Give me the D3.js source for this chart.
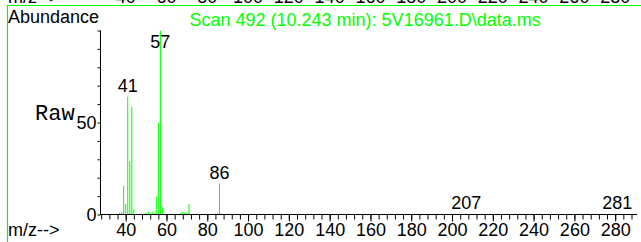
<!DOCTYPE html>
<html>
<head>
<meta charset="utf-8">
<title>Scan 492</title>
<script src="https://cdn.jsdelivr.net/npm/d3@7/dist/d3.min.js"></script>
<style>
  body { margin: 0; background: #fff; }
  text { font-family: "Liberation Sans", Arial, sans-serif; font-size: 18px; }
</style>
</head>
<body>
<svg id="chart" width="641" height="242"></svg>
<script>
// spectrum: m/z and abundance (% of base peak)
const mz        = [37, 38, 39, 40, 41, 42, 43, 44, 50, 51, 52, 53, 54, 55, 56, 57, 58, 67, 68, 69, 70, 71, 84, 85, 86, 87, 207, 281];
const abundance = [1.0, 1.2, 15.5, 5.7, 64, 29, 58.5, 2.8, 1.0, 1.7, 1.0, 1.5, 0.7, 9.7, 50, 100, 3.9, 1.0, 1.2, 1.2, 1.2, 5.7, 0.6, 0.8, 17, 0.5, 0.5, 0.4];
const peakLabels = [41, 57, 86, 207, 281];
const xTickLabels = [40, 60, 80, 100, 120, 140, 160, 180, 200, 220, 240, 260, 280];
const yTickLabels = [0, 50];
const title = "Scan 492 (10.243 min): 5V16961.D\\data.ms";

const green = "#00ff00";
const svg = d3.select("#chart");

const x = d3.scaleLinear().domain([27.4, 290.7]).range([100, 637]);
const y = d3.scaleLinear().domain([0, 100]).range([214.5, 30.5]);

// frame lines (green) of the scan panel
svg.append("line").attr("x1", 7.5).attr("x2", 7.5).attr("y1", 5.5).attr("y2", 242)
  .attr("stroke", green).attr("stroke-width", 1.2);
svg.append("line").attr("x1", 7).attr("x2", 641).attr("y1", 5.5).attr("y2", 5.5)
  .attr("stroke", green).attr("stroke-width", 1.2);

// cut-off axis labels of the panel above
const gAbove = svg.append("g");
gAbove.append("text").attr("x", 8).attr("y", 2.5).text("m/z-->");
gAbove.selectAll(".tl").data(xTickLabels).join("text")
  .attr("x", d => x(d)).attr("y", 2.5).attr("text-anchor", "middle").text(d => d);

svg.append("text").attr("x", 8).attr("y", 22.7).text("Abundance");
svg.append("text").attr("x", 189.5).attr("y", 26).attr("fill", green).text(title);

// y axis
const gy = svg.append("g").attr("transform", "translate(100.5,0)");
gy.call(d3.axisLeft(y).tickValues(d3.range(0, 101, 10)).tickSize(3).tickFormat(""));
gy.selectAll(".tick").filter(d => yTickLabels.includes(d)).append("text")
  .attr("x", -4).attr("dy", "0.32em").attr("fill", "#000").attr("text-anchor", "end")
  .text(d => d);
gy.select(".domain").remove();
gy.append("line").attr("x1", 0).attr("x2", 0).attr("y1", y(100)).attr("y2", y(0)).attr("stroke", "#000");
gy.selectAll("text").style("font-size", "18px").style("font-family", "'Liberation Sans', Arial, sans-serif");

svg.append("text").attr("x", 35).attr("y", 119.5)
  .style("font-family", "'Courier New', 'Liberation Mono', monospace").style("font-size", "22px")
  .style("font-weight", "300")
  .text("Raw");

// bars
svg.append("g").selectAll("line").data(mz).join("line")
  .attr("x1", d => x(d)).attr("x2", d => x(d))
  .attr("y1", y(0)).attr("y2", (d, i) => y(abundance[i]))
  .attr("stroke", green).attr("stroke-width", 1);

// x axis
const gx = svg.append("g").attr("transform", `translate(0,${y(0)})`);
gx.call(d3.axisBottom(x).tickValues(d3.range(28, 290, 4)).tickSize(5).tickFormat("").tickSizeOuter(0));
const gx2 = svg.append("g").attr("transform", `translate(0,${y(0)})`);
gx2.call(d3.axisBottom(x).tickValues(xTickLabels).tickSize(7).tickSizeOuter(0));
gx2.select(".domain").remove();
gx2.selectAll("text").attr("y", 21).attr("dy", 0)
  .style("font-size", "18px").style("font-family", "'Liberation Sans', Arial, sans-serif");
gx.select(".domain").attr("d", `M${x.range()[0]},0H${x.range()[1]}`);

svg.append("text").attr("x", 8).attr("y", 235.5).text("m/z-->");

// peak labels
svg.append("g").selectAll("text").data(peakLabels).join("text")
  .attr("x", d => x(d))
  .attr("y", d => Math.max(y(abundance[mz.indexOf(d)]) - 4.5, y(100) + 17))
  .attr("text-anchor", "middle")
  .text(d => d);
</script>
</body>
</html>
